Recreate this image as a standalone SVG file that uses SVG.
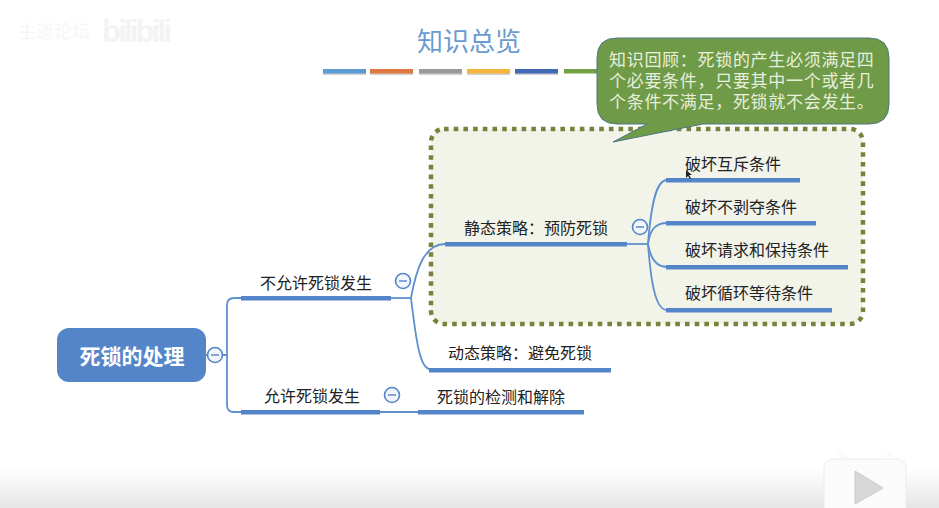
<svg xmlns="http://www.w3.org/2000/svg" width="939" height="508" viewBox="0 0 939 508">
<style>
text{font-family:"Noto Sans CJK SC","Noto Sans",sans-serif}
.l{font-size:16px;fill:#222;text-anchor:middle}
.u{fill:#5585c9}
.c{fill:none;stroke:#5f8fd0;stroke-width:1.8}
.b{stroke:#5585c9;stroke-width:1.6;fill:#f2f5fb}
.m{stroke:#5585c9;stroke-width:1.4}
text.w{font-family:"Liberation Sans","Noto Sans CJK SC",sans-serif;font-size:17px;letter-spacing:.7px;fill:#e8efdd}
</style>
<defs>
<linearGradient id="g" x1="0" y1="0" x2="0" y2="1"><stop offset="0" stop-color="#fff"/><stop offset="1" stop-color="#e6e6e6"/></linearGradient>
</defs>
<rect width="939" height="508" fill="#fff"/>
<rect y="468" width="939" height="40" fill="url(#g)"/>
<g id="watermark">
<text x="18" y="38" font-size="18" fill="#f6f6f6">主道论坛</text>
<text x="102" y="42" font-size="31" font-weight="700" fill="#f3f3f3" style="font-family:'Liberation Sans',sans-serif" textLength="70">bilibili</text>
</g>
<g id="title">
<text x="469" y="51" font-size="26" fill="#6a9bd1" text-anchor="middle">知识总览</text>
<g>
<rect x="323" y="70" width="43" height="5" fill="#d0d0d0"/>
<rect x="370" y="70" width="43" height="5" fill="#d0d0d0"/>
<rect x="419" y="70" width="43" height="5" fill="#d0d0d0"/>
<rect x="467" y="70" width="43" height="5" fill="#d0d0d0"/>
<rect x="515" y="70" width="43" height="5" fill="#d0d0d0"/>
<rect x="323" y="69" width="43" height="4.5" fill="#5b9bd5"/>
<rect x="370" y="69" width="43" height="4.5" fill="#e0773f"/>
<rect x="419" y="69" width="43" height="4.5" fill="#9a9a9a"/>
<rect x="467" y="69" width="43" height="4.5" fill="#f5b53a"/>
<rect x="515" y="69" width="43" height="4.5" fill="#4169b5"/>
<rect x="564" y="69" width="36" height="4.5" fill="#72a045"/>
</g>
</g>
<g id="highlight">
<rect x="431" y="129" width="432" height="195" rx="13" fill="#f2f4ea" stroke="#76833a" stroke-width="4.5" stroke-dasharray="4.6 5.1"/>
</g>
<g id="connectors">
<path class="c" d="M205 355H227V305Q227 298 234 298H241"/>
<path class="c" d="M227 355V405Q227 412 234 412H241"/>
<path class="c" d="M391 298H411"/>
<path class="c" d="M411 298C416 270 424 244 445 244"/>
<path class="c" d="M411 298C416 340 420 369 430 369"/>
<path class="c" d="M380 412H418"/>
<path class="c" d="M627 244H648"/>
<path class="c" d="M648 244C651 205 656 180 667 180"/>
<path class="c" d="M648 244C650 230 655 223 667 223"/>
<path class="c" d="M648 244C650 256 655 267 667 267"/>
<path class="c" d="M648 244C651 285 656 310 667 310"/>
</g>
<g id="n-root">
<rect x="57" y="328" width="149" height="54" rx="12" fill="#5585c9"/>
<text x="132" y="364" font-size="21" font-weight="700" fill="#fff" text-anchor="middle">死锁的处理</text>
<circle class="b" cx="215" cy="355" r="7.5"/><path class="m" d="M211 355h8"/>
</g>
<g id="n-disallow">
<text class="l" x="316" y="289">不允许死锁发生</text>
<rect class="u" x="241" y="296" width="150" height="4.5"/>
<circle class="b" cx="403" cy="281" r="7.5"/><path class="m" d="M399 281h8"/>
</g>
<g id="n-allow">
<text class="l" x="312" y="402">允许死锁发生</text>
<rect class="u" x="241" y="410" width="139" height="4.5"/>
<circle class="b" cx="392" cy="395" r="7.5"/><path class="m" d="M388 395h8"/>
</g>
<g id="n-static">
<text class="l" x="536" y="234">静态策略：预防死锁</text>
<rect class="u" x="445" y="242" width="182" height="4.5"/>
<circle class="b" cx="640" cy="227" r="7.5"/><path class="m" d="M636 227h8"/>
</g>
<g id="n-dynamic">
<text class="l" x="520" y="359">动态策略：避免死锁</text>
<rect class="u" x="429" y="368" width="182" height="4.5"/>
</g>
<g id="n-detect">
<text class="l" x="501" y="403">死锁的检测和解除</text>
<rect class="u" x="418" y="410" width="166" height="4.5"/>
</g>
<g id="n-mutex">
<text class="l" x="733" y="170">破坏互斥条件</text>
<rect class="u" x="666" y="178" width="134" height="4.5"/>
</g>
<g id="n-nopreempt">
<text class="l" x="741" y="213">破坏不剥夺条件</text>
<rect class="u" x="666" y="221" width="150" height="4.5"/>
</g>
<g id="n-holdwait">
<text class="l" x="757" y="256">破坏请求和保持条件</text>
<rect class="u" x="666" y="265" width="182" height="4.5"/>
</g>
<g id="n-circular">
<text class="l" x="749" y="299">破坏循环等待条件</text>
<rect class="u" x="666" y="308" width="166" height="4.5"/>
</g>
<g id="callout">
<path d="M617 38H869Q889 38 889 58V104Q889 124 869 124H703L613 142L647 124H617Q597 124 597 104V58Q597 38 617 38Z" fill="#6f9a47" stroke="#4f7680" stroke-width="1"/>
<text class="w"><tspan x="609" y="66">知识回顾：死锁的产生必须满足四</tspan><tspan x="609" y="87">个必要条件，只要其中一个或者几</tspan><tspan x="609" y="108">个条件不满足，死锁就不会发生。</tspan></text>
</g>
<g id="cursor"><path d="M686 170v8l2-2 2 3 1-1-2-3h3z" fill="#222"/></g>
<g id="play">
<path d="M846 459l-6-5M884 459l6-5" stroke="#fbfbfb" stroke-width="5" stroke-linecap="round"/>
<rect x="824" y="459" width="82" height="60" rx="9" fill="#fbfbfb" stroke="#ececec"/>
<path d="M855 471L883 488L855 504Z" fill="#d8d8d8" stroke="#cacaca" stroke-linejoin="round"/>
</g>
</svg>
